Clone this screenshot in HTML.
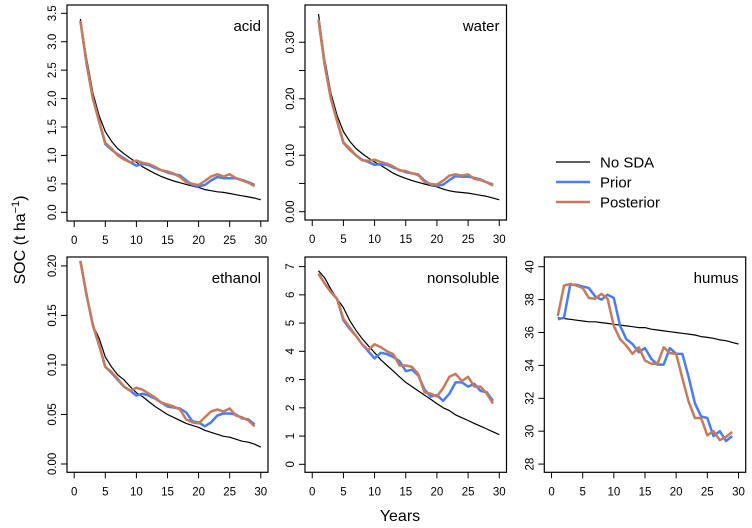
<!DOCTYPE html>
<html><head><meta charset="utf-8"><style>
body{margin:0;background:#fff;}
svg{display:block;font-family:"Liberation Sans",Arial,sans-serif;}
</style></head><body>
<svg id="chart" width="752" height="528" viewBox="0 0 752 528" xmlns="http://www.w3.org/2000/svg"></svg>
<script>
const years = [1,2,3,4,5,6,7,8,9,10,11,12,13,14,15,16,17,18,19,20,21,22,23,24,25,26,27,28,29,30];
const acidNoSDA = [3.4,2.7,2.1,1.7,1.42,1.25,1.12,1.03,0.95,0.88,0.8,0.74,0.68,0.63,0.59,0.55,0.52,0.49,0.46,0.44,0.40,0.38,0.36,0.35,0.33,0.31,0.29,0.27,0.25,0.22];
const acidPrior = [3.37,2.6,2.0,1.6,1.2,1.1,1.02,0.95,0.88,0.82,0.85,0.83,0.78,0.74,0.70,0.67,0.65,0.56,0.48,0.46,0.48,0.56,0.62,0.60,0.60,0.60,0.57,0.53,0.48];
const acidPost = [3.37,2.6,2.0,1.6,1.22,1.12,1.0,0.93,0.88,0.91,0.87,0.85,0.80,0.74,0.72,0.68,0.62,0.53,0.50,0.48,0.55,0.63,0.67,0.63,0.67,0.60,0.56,0.52,0.46];
const waterNoSDA = [0.35,0.27,0.21,0.17,0.142,0.125,0.112,0.103,0.095,0.088,0.082,0.075,0.068,0.063,0.059,0.055,0.052,0.049,0.046,0.044,0.040,0.037,0.035,0.034,0.033,0.031,0.029,0.027,0.024,0.021];
const waterPrior = [0.34,0.26,0.20,0.16,0.122,0.11,0.10,0.092,0.088,0.083,0.084,0.083,0.078,0.074,0.070,0.068,0.066,0.055,0.048,0.046,0.048,0.056,0.063,0.062,0.062,0.060,0.057,0.052,0.048];
const waterPost = [0.34,0.26,0.20,0.16,0.123,0.112,0.10,0.091,0.090,0.092,0.088,0.085,0.08,0.073,0.072,0.068,0.065,0.053,0.049,0.048,0.055,0.064,0.066,0.064,0.066,0.058,0.056,0.052,0.046];
const ethNoSDA = [0.205,0.17,0.14,0.127,0.108,0.098,0.09,0.085,0.078,0.072,0.068,0.063,0.058,0.054,0.050,0.047,0.044,0.041,0.039,0.037,0.034,0.032,0.030,0.028,0.027,0.025,0.023,0.022,0.020,0.017];
const ethPrior = [0.205,0.17,0.14,0.12,0.098,0.092,0.085,0.078,0.074,0.069,0.071,0.069,0.066,0.062,0.058,0.057,0.056,0.052,0.043,0.042,0.038,0.042,0.049,0.051,0.051,0.05,0.046,0.045,0.040];
const ethPost = [0.205,0.17,0.14,0.12,0.098,0.093,0.086,0.078,0.074,0.077,0.075,0.071,0.067,0.062,0.060,0.058,0.055,0.045,0.042,0.041,0.047,0.053,0.055,0.053,0.056,0.049,0.047,0.044,0.038];
const nonNoSDA = [6.85,6.6,6.2,5.85,5.55,5.1,4.75,4.45,4.2,3.95,3.7,3.5,3.3,3.1,2.9,2.75,2.6,2.45,2.3,2.15,2.0,1.9,1.75,1.65,1.55,1.45,1.35,1.25,1.15,1.05];
const nonPrior = [6.75,6.4,6.1,5.85,5.1,4.8,4.55,4.25,4.0,3.75,3.95,3.9,3.8,3.65,3.3,3.35,3.15,2.65,2.4,2.45,2.25,2.5,2.9,2.9,2.75,2.85,2.6,2.55,2.25];
const nonPost = [6.75,6.4,6.1,5.85,5.15,4.85,4.55,4.25,4.05,4.25,4.15,4.0,3.9,3.5,3.5,3.45,3.2,2.55,2.5,2.4,2.7,3.1,3.2,2.95,3.1,2.75,2.75,2.5,2.15];
const humNoSDA = [36.9,36.85,36.8,36.75,36.7,36.65,36.65,36.6,36.55,36.5,36.45,36.4,36.35,36.3,36.3,36.2,36.15,36.1,36.05,36.0,35.95,35.9,35.85,35.75,35.7,35.65,35.55,35.5,35.4,35.3];
const humPrior = [36.8,36.9,38.9,38.9,38.8,38.7,38.2,38.0,38.3,38.1,36.4,35.6,35.3,34.8,35.05,34.4,34.05,34.05,35.05,34.7,34.7,33.3,31.7,30.9,30.8,29.7,30.0,29.4,29.7];
const humPost = [37.0,38.85,38.95,38.85,38.7,38.1,38.05,38.35,38.05,36.4,35.6,35.2,34.7,35.1,34.3,34.1,34.1,35.1,34.75,34.7,33.2,31.8,30.8,30.8,29.75,30.0,29.45,29.65,29.95];
const xTicks = [0,5,10,15,20,25,30];
const acidTicks = [0,0.5,1,1.5,2,2.5,3,3.5];
const acidLabels = ["0.0","0.5","1.0","1.5","2.0","2.5","3.0","3.5"];
const waterTicks = [0,0.05,0.1,0.15,0.2,0.25,0.3];
const waterLabels = ["0.00","","0.10","","0.20","","0.30"];
const ethTicks = [0,0.05,0.1,0.15,0.2];
const ethLabels = ["0.00","0.05","0.10","0.15","0.20"];
const nonTicks = [0,1,2,3,4,5,6,7];
const nonLabels = ["0","1","2","3","4","5","6","7"];
const humTicks = [28,30,32,34,36,38,40];
const humLabels = ["28","30","32","34","36","38","40"];

const NS="http://www.w3.org/2000/svg";
const svg=document.getElementById('chart');
function mk(tag,attrs,parent){const e=document.createElementNS(NS,tag);for(const k in attrs)e.setAttribute(k,attrs[k]);(parent||svg).appendChild(e);return e;}
const BLUE="#4a7cf2", BROWN="#c67b5c";
let clipId=0;
function panel(name,title,l,t,r,b,ylim,ticks,labels,noSDA,prior,post){
  const g=mk('g',{});
  
  
  const xs=v=>l+(v+1.16)/32.32*(r-l);
  const ys=v=>b-(v-ylim[0])/(ylim[1]-ylim[0])*(b-t);
  clipId++;
  const cp=mk('clipPath',{id:'cp'+clipId},g);
  mk('rect',{x:l,y:t,width:r-l,height:b-t},cp);
  const lg=mk('g',{'clip-path':'url(#cp'+clipId+')'},g);
  function line(arr,col,w,nm){
    const d=arr.map((v,i)=>(i?'L':'M')+xs(years[i]).toFixed(1)+','+ys(v).toFixed(1)).join('');
    const p=mk('path',{d:d,fill:'none',stroke:col,'stroke-width':w,'stroke-linejoin':'round'},lg);
    
    
  }
  line(noSDA,'#000',1.2,name+'-no-sda-line');
  line(prior,BLUE,2.5,name+'-prior-line');
  line(post,BROWN,2.5,name+'-posterior-line');
  const box=mk('rect',{x:l,y:t,width:r-l,height:b-t,fill:'none',stroke:'#000','stroke-width':1.2},g);
  
  
  xTicks.forEach(v=>{
    const x=xs(v);
    mk('line',{x1:x,x2:x,y1:b,y2:b+6,stroke:'#000'},g);
    const tx=mk('text',{x:x,y:b+23,'font-size':11.5,'text-anchor':'middle'},g);
    tx.textContent=v;
    
    
  });
  ticks.forEach((v,i)=>{
    const y=ys(v);
    mk('line',{x1:l-6,x2:l,y1:y,y2:y,stroke:'#000'},g);
    if(labels[i]){
      const tx=mk('text',{x:0,y:0,'font-size':11.5,'text-anchor':'middle',transform:`translate(${l-11},${y}) rotate(-90)`},g);
      tx.textContent=labels[i];
      
      
    }
  });
  const tt=mk('text',{x:r-7,y:t+26,'font-size':15,'text-anchor':'end'},g);
  tt.textContent=title;
  
  
}
panel('acid','acid',67,5,268,221,[-0.153,3.646],acidTicks,acidLabels,acidNoSDA,acidPrior,acidPost);
panel('water','water',305,5,506.5,220,[-0.0147,0.366],waterTicks,waterLabels,waterNoSDA,waterPrior,waterPost);
panel('ethanol','ethanol',67,257,268,472.3,[-0.0084,0.209],ethTicks,ethLabels,ethNoSDA,ethPrior,ethPost);
panel('nonsoluble','nonsoluble',305,257,506.5,472.3,[-0.283,7.34],nonTicks,nonLabels,nonNoSDA,nonPrior,nonPost);
panel('humus','humus',544.3,257,745.7,472.3,[27.5,40.59],humTicks,humLabels,humNoSDA,humPrior,humPost);
</script>
<svg style="position:absolute;left:0;top:0" width="752" height="528" xmlns="http://www.w3.org/2000/svg" font-family="Liberation Sans, Arial, sans-serif">
  <g>
    <line x1="556" x2="590" y1="162" y2="162" stroke="#000" stroke-width="1.2"/>
    <text x="600" y="167.5" font-size="15">No SDA</text>
    <line x1="556" x2="590" y1="182" y2="182" stroke="#4a7cf2" stroke-width="2.5"/>
    <text x="600" y="187.5" font-size="15">Prior</text>
    <line x1="556" x2="590" y1="202" y2="202" stroke="#c67b5c" stroke-width="2.5"/>
    <text x="600" y="207.5" font-size="15">Posterior</text>
  </g>
  <text transform="translate(25,240) rotate(-90)" text-anchor="middle" font-size="16">SOC (t ha<tspan baseline-shift="super" font-size="11">−1</tspan>)</text>
  <text x="400" y="521" text-anchor="middle" font-size="16">Years</text>
</svg>
</body></html>
